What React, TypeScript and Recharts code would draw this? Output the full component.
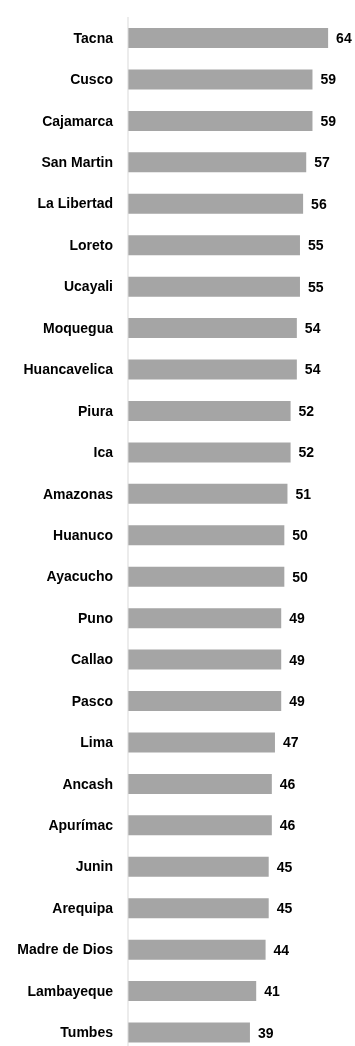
import React from "react";
import { BarChart, Bar, XAxis, YAxis, LabelList } from "recharts";

const regions = [
  "Tacna", "Cusco", "Cajamarca", "San Martin", "La Libertad", "Loreto", "Ucayali",
  "Moquegua", "Huancavelica", "Piura", "Ica", "Amazonas", "Huanuco", "Ayacucho",
  "Puno", "Callao", "Pasco", "Lima", "Ancash", "Apurímac", "Junin", "Arequipa",
  "Madre de Dios", "Lambayeque", "Tumbes",
];
const values = [64, 59, 59, 57, 56, 55, 55, 54, 54, 52, 52, 51, 50, 50, 49, 49, 49, 47, 46, 46, 45, 45, 44, 41, 39];

const data = regions.map((name, i) => ({ name, value: values[i] }));

const FONT = "'Liberation Sans', Arial, sans-serif";

export default function App() {
  return (
    <div style={{ position: "fixed", top: 8, left: 8, width: 347, height: 1045 }}>
      <BarChart
        width={347}
        height={1045}
        data={data}
        layout="vertical"
        margin={{ top: 9, right: 5, left: 0, bottom: 0 }}
      >
        <XAxis type="number" domain={[0, 71]} hide />
        <YAxis
          type="category"
          dataKey="name"
          width={120}
          axisLine={{ stroke: "#D9D9D9", strokeWidth: 1 }}
          tickLine={false}
          tickSize={6}
          tickMargin={9}
          interval={0}
          tick={{ fill: "#000", fontSize: 14, fontWeight: "bold", fontFamily: FONT }}
        />
        <Bar dataKey="value" fill="#A5A5A5" barSize={20} isAnimationActive={false}>
          <LabelList
            dataKey="value"
            position="right"
            offset={8}
            style={{ fill: "#000", fontSize: 14, fontWeight: "bold", fontFamily: FONT }}
          />
        </Bar>
      </BarChart>
    </div>
  );
}
